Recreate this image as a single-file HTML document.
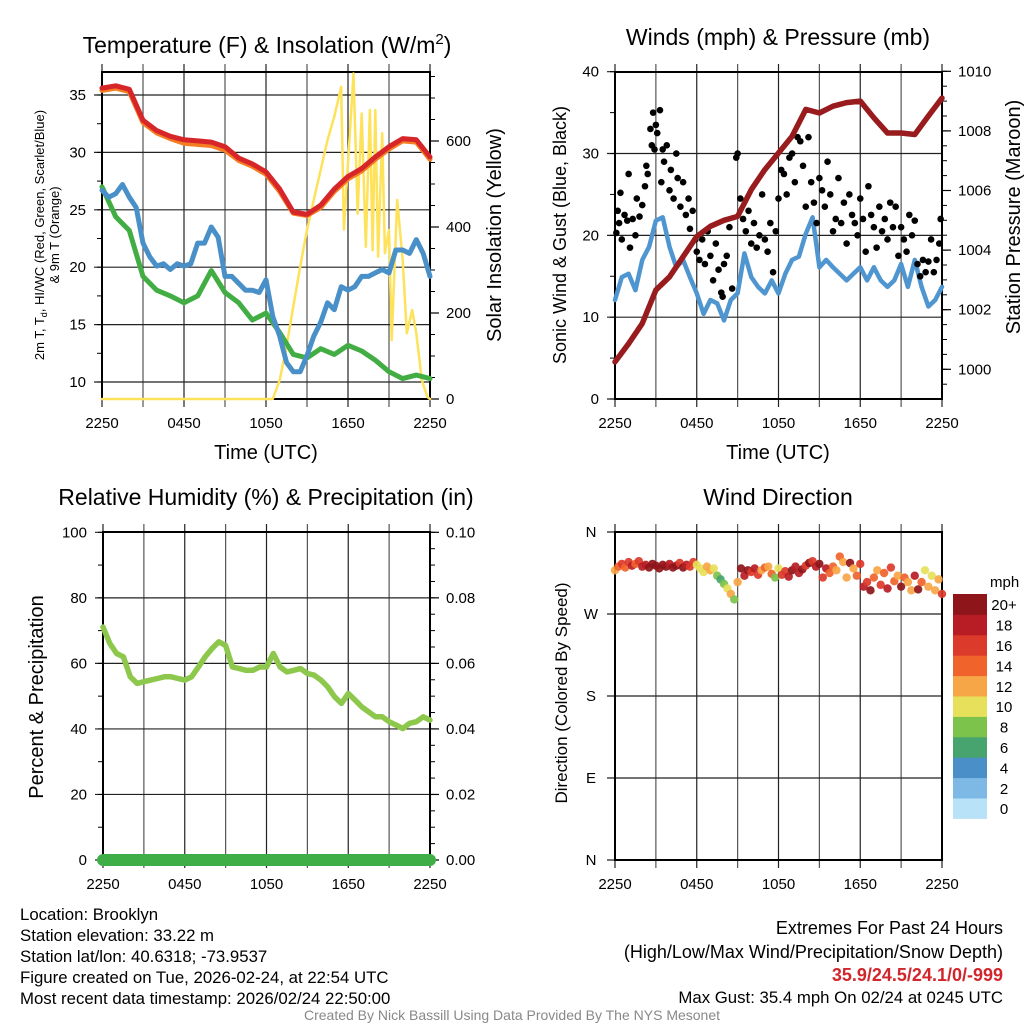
<!DOCTYPE html>
<html><head><meta charset="utf-8">
<style>
html,body{margin:0;padding:0;background:#fff;}
svg{display:block;font-family:"Liberation Sans",sans-serif;}
</style></head>
<body>
<svg id="chart" width="1024" height="1024" viewBox="0 0 1024 1024" xmlns="http://www.w3.org/2000/svg">
<rect width="1024" height="1024" fill="#fff"/>
<g id="g1"></g>
<g id="g2"></g>
<g id="g3"></g>
<g id="g4"></g>

<text x="267" y="53" font-size="23" text-anchor="middle">Temperature (F) &amp; Insolation (W/m<tspan dy="-9" font-size="15">2</tspan><tspan dy="9">)</tspan></text>
<text x="778" y="45" font-size="23" text-anchor="middle">Winds (mph) &amp; Pressure (mb)</text>
<text x="266" y="505" font-size="23" text-anchor="middle">Relative Humidity (%) &amp; Precipitation (in)</text>
<text x="778" y="505" font-size="23" text-anchor="middle">Wind Direction</text>

<text x="266" y="459" font-size="20" text-anchor="middle">Time (UTC)</text>
<text x="778" y="459" font-size="20" text-anchor="middle">Time (UTC)</text>

<text transform="translate(44,235) rotate(-90)" font-size="13" text-anchor="middle">2m T, T<tspan dy="3" font-size="9">d</tspan><tspan dy="-3">, HI/WC (Red, Green, Scarlet/Blue)</tspan></text>
<text transform="translate(59,235) rotate(-90)" font-size="13" text-anchor="middle">&amp; 9m T (Orange)</text>
<text transform="translate(501,235) rotate(-90)" font-size="20" text-anchor="middle">Solar Insolation (Yellow)</text>
<text transform="translate(566,235) rotate(-90)" font-size="18" text-anchor="middle">Sonic Wind &amp; Gust (Blue, Black)</text>
<text transform="translate(1020,217) rotate(-90)" font-size="20" text-anchor="middle">Station Pressure (Maroon)</text>
<text transform="translate(43,697) rotate(-90)" font-size="20" text-anchor="middle">Percent &amp; Precipitation</text>
<text transform="translate(567,693) rotate(-90)" font-size="17" text-anchor="middle">Direction (Colored By Speed)</text>

<g font-size="16.8">
<text x="20" y="920">Location: Brooklyn</text>
<text x="20" y="941">Station elevation: 33.22 m</text>
<text x="20" y="962">Station lat/lon: 40.6318; -73.9537</text>
<text x="20" y="983">Figure created on Tue, 2026-02-24, at 22:54 UTC</text>
<text x="20" y="1004">Most recent data timestamp: 2026/02/24 22:50:00</text>
</g>
<g font-size="18" text-anchor="end">
<text x="1003" y="934">Extremes For Past 24 Hours</text>
<text x="1003" y="958">(High/Low/Max Wind/Precipitation/Snow Depth)</text>
<text x="1003" y="981" fill="#d0262c" font-weight="bold">35.9/24.5/24.1/0/-999</text>
<text x="1003" y="1003" font-size="16.8">Max Gust: 35.4 mph On 02/24 at 0245 UTC</text>
</g>
<text x="512" y="1020" font-size="14" fill="#888" text-anchor="middle">Created By Nick Bassill Using Data Provided By The NYS Mesonet</text>
</svg>
<script>
// ---------- data ----------
const xTickLabels = ["2250","0450","1050","1650","2250"];
const tempT  = [35.6,35.8,35.5,32.8,31.9,31.4,31.1,31.0,30.9,30.5,29.5,29.0,28.3,26.8,24.8,24.6,25.4,26.8,27.9,28.6,29.6,30.5,31.2,31.1,29.6];
const temp9m = [35.4,35.6,35.3,32.6,31.7,31.2,30.8,30.7,30.6,30.2,29.3,28.8,28.1,26.6,24.7,24.5,25.2,26.6,27.7,28.4,29.4,30.3,31.0,30.9,29.4];
const dewTd  = [27.0,24.4,23.2,19.2,18.0,17.5,16.9,17.5,19.7,17.8,16.9,15.4,16.0,14.3,12.4,12.1,12.9,12.4,13.2,12.7,11.9,10.9,10.3,10.6,10.3];
const windChill = [26.7,26.1,26.4,27.2,26.1,25.2,22.1,20.9,20.1,20.3,19.8,20.3,20.1,20.3,22.1,22.1,23.5,22.6,19.2,19.2,18.6,18.0,18.0,17.8,18.9,15.7,14.0,11.7,10.9,10.9,12.3,14.0,15.2,16.9,16.3,18.3,18.0,18.3,19.2,19.2,19.5,19.8,19.5,21.5,21.5,21.2,22.4,21.2,19.2];
const solarTimes = [0,12.5,13,13.5,14,14.5,15,15.5,16,16.5,17,17.5,17.7,18.4,18.7,19.0,19.3,19.6,19.8,20.0,20.2,20.5,20.7,21.0,21.2,21.6,22.0,22.3,22.7,23.0,23.4,23.8,24];
const solarVals  = [0,0,44,122,215,308,393,463,533,602,657,726,394,757,431,664,354,672,346,672,331,618,339,393,137,463,323,153,207,153,44,5,0];
const tempTicks = [10,15,20,25,30,35];
const solarTicks = [0,200,400,600];

const windSpeed = [12.1,14.9,15.3,13.3,17.0,18.6,21.8,22.2,18.6,16.1,17.0,14.9,12.9,10.4,12.1,11.7,9.6,12.1,12.9,17.8,14.9,13.7,12.9,14.5,12.9,15.3,17.0,17.4,20.2,22.2,16.1,17.0,16.1,15.3,14.5,15.3,16.1,14.5,16.1,14.5,13.7,14.5,16.5,13.7,17.0,13.7,11.3,12.1,13.7];
const pressure = [1000.25,1000.86,1001.54,1002.66,1003.1,1003.78,1004.46,1004.8,1005.0,1005.13,1006.03,1006.7,1007.26,1007.82,1008.72,1008.6,1008.83,1008.95,1009.0,1008.44,1007.93,1007.93,1007.88,1008.5,1009.1];
const gustTimes = [0.1,0.2,0.3,0.4,0.5,0.7,0.9,1.0,1.1,1.3,1.5,1.6,1.8,2.0,2.2,2.3,2.4,2.6,2.7,2.8,2.9,3.0,3.1,3.3,3.4,3.5,3.6,3.8,4.0,4.1,4.3,4.5,4.6,4.8,5.0,5.2,5.4,5.5,5.7,5.9,6.0,6.2,6.4,6.6,6.8,7.0,7.2,7.4,7.6,7.8,7.9,8.0,8.2,8.4,8.6,8.9,9.0,9.2,9.4,9.6,9.8,10.0,10.2,10.4,10.6,10.8,11.0,11.2,11.4,11.6,11.8,12.0,12.2,12.4,12.6,12.8,13.0,13.2,13.4,13.6,13.8,14.0,14.2,14.4,14.6,14.8,15.0,15.2,15.4,15.6,15.8,16.0,16.2,16.4,16.6,16.8,17.0,17.2,17.4,17.6,17.8,18.0,18.2,18.4,18.6,18.8,19.0,19.2,19.4,19.6,19.8,20.0,20.2,20.4,20.6,20.8,21.0,21.2,21.4,21.6,21.8,22.0,22.2,22.4,22.6,22.8,23.0,23.2,23.4,23.6,23.8,23.9];
const gustVals  = [20.3,23.0,21.5,25.2,19.5,22.5,21.8,27.5,18.5,22.0,20.0,24.5,22.3,23.7,26.0,28.5,27.5,33.0,31.0,35.0,30.5,33.5,32.5,35.3,26.5,30.5,29.0,31.0,25.5,28.0,24.5,30.0,27.0,23.5,26.5,22.5,24.5,20.8,23.0,19.5,18.0,17.0,19.5,16.5,20.5,17.5,14.5,19.0,15.8,13.0,12.5,16.5,17.5,21.0,13.5,29.5,30.0,24.5,22.0,20.5,23.0,19.0,21.5,18.5,20.0,25.0,19.5,18.0,21.5,15.5,20.5,24.5,28.0,27.5,25.0,29.5,30.0,26.5,32.0,31.5,28.5,23.5,32.0,26.5,24.0,21.5,27.0,25.5,23.5,29.0,25.0,20.5,22.0,27.0,21.5,24.0,19.0,25.0,22.5,21.5,20.0,24.5,22.0,18.0,26.0,22.5,21.0,18.5,23.5,20.5,22.0,19.5,24.0,21.0,23.5,17.5,21.0,19.5,18.0,22.5,20.0,21.8,16.5,15.0,17.0,15.5,16.8,19.5,15.5,17.0,19.0,22.0];
const windTicks = [0,10,20,30,40];
const pressureTicks = [1000,1002,1004,1006,1008,1010];

const relHum = [71.1,66.1,63.0,62.0,55.9,53.9,54.4,54.9,55.4,55.9,55.9,55.4,54.9,55.9,58.9,62.0,64.5,66.6,65.5,58.9,58.4,57.9,57.9,58.9,58.9,63.0,58.9,57.4,57.9,58.4,56.9,56.4,54.9,52.8,49.8,47.8,50.8,48.8,46.7,45.2,43.7,43.7,42.2,41.2,40.1,41.7,42.2,43.7,42.7];
const precip = [0,0,0,0,0,0,0,0,0,0,0,0,0,0,0,0,0,0,0,0,0,0,0,0,0];
const rhTicks = [0,20,40,60,80,100];
const precipTicks = ["0.00","0.02","0.04","0.06","0.08","0.10"];

const windDir = [318,322,325,321,327,323,325,328,322,324,321,325,323,320,324,322,325,321,323,326,321,324,322,327,324,320,316,322,318,320,312,308,303,298,292,286,305,320,312,318,316,320,313,318,321,322,314,310,320,313,317,311,318,322,315,319,323,326,328,322,325,310,320,315,322,318,333,327,310,326,320,312,325,300,305,296,310,318,302,315,298,321,306,312,300,310,305,296,312,297,305,318,300,312,296,308,292];
const dirSpeed = [13,15,17,14,16,18,15,17,19,18,20,20,21,20,21,20,19,20,20,17,20,18,17,16,11,10,11,12,13,11,8,7,9,10,12,9,12,20,18,21,16,18,16,13,14,12,14,8,11,16,17,18,20,19,18,20,17,20,16,18,20,17,18,15,14,12,14,12,13,20,12,14,16,18,17,20,14,12,16,14,18,16,14,12,20,15,12,13,18,20,14,10,12,10,12,13,16];
const dirTickLabels = ["N","E","S","W","N"];
const speedBins = ["0","2","4","6","8","10","12","14","16","18","20+"];
const speedColors = ["#b8e2f7","#7db9e4","#4a8fc7","#47a46f","#7bc34b","#e6e05a","#f7a647","#f0632b","#dc3a2a","#b81c24","#8e1519"];

// ---------- helpers ----------
const NS="http://www.w3.org/2000/svg";
function mk(parent, tag, attrs){ const e=document.createElementNS(NS,tag); for(const k in attrs) e.setAttribute(k,attrs[k]); parent.appendChild(e); return e; }
function scale(d0,d1,r0,r1){ return v => r0 + (v-d0)/(d1-d0)*(r1-r0); }
function pathFrom(xs, ys){ return xs.map((x,i)=>(i?'L':'M')+x.toFixed(1)+','+ys[i].toFixed(1)).join(''); }

function frame(g, x0,x1,y0,y1, hGrid){
  for(let h=0;h<=24;h+=3){
    const x = x0 + h/24*(x1-x0);
    const l = mk(g,'line',{x1:x,x2:x,y1:y0-8,y2:y1+8,stroke:(h%6===0)?'#222':'#555','stroke-width':1.2});
    
    
  }
  hGrid.forEach(y=>{
    const l = mk(g,'line',{x1:x0-8,x2:x1,y1:y,y2:y,stroke:'#222','stroke-width':1.2});
    
    
  });
  const r = mk(g,'rect',{x:x0,y:y0,width:x1-x0,height:y1-y0,fill:'none',stroke:'#000','stroke-width':2});
  
  
  xTickLabels.forEach((lab,i)=>{
    const t = mk(g,'text',{x:x0+i*6/24*(x1-x0),y:y1+29,'font-size':15,'text-anchor':'middle'});
    t.textContent=lab;
    
    
  });
}
function leftLabels(g,x0,ticks,sy,labels,minorStep,minorFrom,minorTo){
  ticks.forEach((v,i)=>{
    const t=mk(g,'text',{x:x0-16,y:sy(v)+5,'font-size':15,'text-anchor':'end'});
    t.textContent = labels?labels[i]:v;
    
    
  });
  if(minorStep){ for(let v=minorFrom; v<=minorTo+1e-9; v+=minorStep){
    const l=mk(g,'line',{x1:x0-5,x2:x0,y1:sy(v),y2:sy(v),stroke:'#000','stroke-width':1});
    
    
  }}
}
function rightAxis(g,x1,ticks,sy,labels,minorStep,from,to){
  ticks.forEach((v,i)=>{
    const l=mk(g,'line',{x1:x1,x2:x1+9,y1:sy(v),y2:sy(v),stroke:'#000','stroke-width':1.2});
    
    
    const t=mk(g,'text',{x:x1+16,y:sy(v)+5,'font-size':15});
    t.textContent = labels?labels[i]:v;
    
    
  });
  for(let v=from; v<=to+1e-9; v+=minorStep){
    const l=mk(g,'line',{x1:x1,x2:x1+5,y1:sy(v),y2:sy(v),stroke:'#000','stroke-width':1});
    
    
  }
}
function series(g, name, hours, vals, sx, sy, color, w){
  const p=mk(g,'path',{d:pathFrom(hours.map(sx), vals.map(sy)),fill:'none',stroke:color,'stroke-width':w,'stroke-linejoin':'round','stroke-linecap':'round'});
  
  
}
const hrs = (n,step)=>Array.from({length:n},(_,i)=>i*step);

// ---------- panel 1 ----------
(function(){
  const g=document.getElementById('g1');
  const x0=102,x1=430,y0=72,y1=399;
  const sx=scale(0,24,x0,x1), sy=scale(10,35,382,95), sw=scale(0,600,399,141);
  frame(g,x0,x1,y0,y1,tempTicks.map(sy));
  leftLabels(g,x0,tempTicks,sy,null,2.5,10,35);
  rightAxis(g,x1,solarTicks,sw,null,50,0,750);
  series(g,'solar-insolation-line',solarTimes,solarVals,sx,sw,'#fde25a',2.5);
  series(g,'temp-9m-line',hrs(25,1),temp9m,sx,sy,'#f57d22',5);
  series(g,'temp-2m-line',hrs(25,1),tempT,sx,sy,'#d7262a',5);
  series(g,'dewpoint-line',hrs(25,1),dewTd,sx,sy,'#42ad43',5);
  series(g,'windchill-line',hrs(49,0.5),windChill,sx,sy,'#4a90c8',5);
})();

// ---------- panel 2 ----------
(function(){
  const g=document.getElementById('g2');
  const x0=615,x1=942,y0=72,y1=399;
  const sx=scale(0,24,x0,x1), sy=scale(0,40,399,71.7), sp=scale(1000,1010,369.3,71.3);
  frame(g,x0,x1,y0,y1,windTicks.map(sy));
  leftLabels(g,x0,windTicks,sy,null,5,0,40);
  rightAxis(g,x1,pressureTicks,sp,null,0.5,999.5,1010);
  series(g,'sonic-wind-line',hrs(49,0.5),windSpeed,sx,sy,'#4f96d0',4.5);
  gustTimes.forEach((t,i)=>{
    const c=mk(g,'circle',{cx:sx(t),cy:sy(gustVals[i]),r:3.3,fill:'#000'});
    
    
  });
  series(g,'station-pressure-line',hrs(25,1),pressure,sx,sp,'#981b1e',5.5);
})();

// ---------- panel 3 ----------
(function(){
  const g=document.getElementById('g3');
  const x0=103,x1=430,y0=532,y1=860;
  const sx=scale(0,24,x0,x1), sy=scale(0,100,860,532.3), sr=scale(0,0.10,860,532.3);
  frame(g,x0,x1,y0,y1,rhTicks.map(sy));
  leftLabels(g,x0,rhTicks,sy,null,10,0,100);
  rightAxis(g,x1,precipTicks.map(Number),sr,precipTicks,0.005,0,0.1);
  series(g,'relative-humidity-line',hrs(49,0.5),relHum,sx,sy,'#8dc84c',5.5);
  series(g,'precipitation-line',hrs(25,1),precip,sx,sr,'#3fae47',12);
})();

// ---------- panel 4 ----------
(function(){
  const g=document.getElementById('g4');
  const x0=615,x1=942,y0=532,y1=860;
  const sx=scale(0,24,x0,x1), sy=scale(0,360,860,532);
  const dticks=[0,90,180,270,360];
  frame(g,x0,x1,y0,y1,dticks.map(sy));
  dticks.forEach((v,i)=>{
    const t=mk(g,'text',{x:x0-24,y:sy(v)+5,'font-size':15,'text-anchor':'middle'});
    t.textContent=dirTickLabels[i];
    
    
  });
  windDir.forEach((d,i)=>{
    const bin=Math.min(10,Math.max(0,Math.floor(dirSpeed[i]/2)));
    const c=mk(g,'circle',{cx:sx(i*0.25),cy:sy(d),r:4.2,fill:speedColors[bin],'fill-opacity':0.92});
    
    
  });
  const cb=mk(g,'g',{});
  
  
  const t=mk(cb,'text',{x:990,y:587,'font-size':15});
  t.textContent='mph';
  
  
  const bh=20.4;
  speedBins.forEach((lab,i)=>{
    const yy=594+(10-i)*bh;
    const r=mk(cb,'rect',{x:953,y:yy,width:34,height:bh+0.5,fill:speedColors[i]});
    
    
    const tt=mk(cb,'text',{x:1004,y:yy+bh/2+6,'font-size':15,'text-anchor':'middle'});
    tt.textContent=lab;
    
    
  });
})();
</script>
</body></html>
